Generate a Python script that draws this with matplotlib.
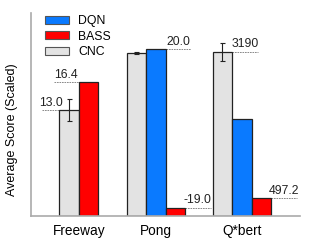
import matplotlib
matplotlib.use('Agg')
import matplotlib.pyplot as plt
from matplotlib.patches import Patch

plt.rcParams['font.family'] = ['Liberation Sans', 'DejaVu Sans']

games = ['Freeway', 'Pong', 'Q*bert']
# scaled bar heights (None = no bar)
cnc_scaled = [0.636, 0.976, 0.986]
dqn_scaled = [None, 1.0, 0.584]
bass_scaled = [0.804, 0.050, 0.108]
cnc_err = [0.066, 0.006, 0.053]
# raw score annotations
cnc_labels = ['13.0', None, '3190']
dqn_labels = [None, '20.0', None]
bass_labels = ['16.4', '-19.0', '497.2']

colors = {'CNC': '#e3e3e3', 'DQN': '#0a7aff', 'BASS': '#ff0000'}
centers = [2.46, 6.41, 10.82]
width = 1.0

fig = plt.figure(figsize=(3.19, 2.45), dpi=100)
ax = fig.add_axes([0.097, 0.118, 0.843, 0.829])

for g in range(len(games)):
    series = [('CNC', cnc_scaled[g], cnc_err[g], cnc_labels[g]),
              ('DQN', dqn_scaled[g], None, dqn_labels[g]),
              ('BASS', bass_scaled[g], None, bass_labels[g])]
    series = [s for s in series if s[1] is not None]
    n = len(series)
    for i, (name, h, err, lab) in enumerate(series):
        x = centers[g] + (i - (n - 1) / 2) * width
        ax.bar(x, h, width, color=colors[name], edgecolor='#222222', linewidth=0.9, zorder=2)
        if err is not None:
            ax.errorbar(x, h, yerr=err, fmt='none', ecolor='#222222', elinewidth=0.8,
                        capsize=1.8, capthick=0.8, zorder=3)
        if lab is None:
            continue
        # Freeway labels sit to the left of the bar, the rest to the right
        if g == 0:
            length = 0.9 if name == 'CNC' else 1.3
            x1 = x - width / 2
            x0 = x1 - length
        else:
            x0 = x + width / 2
            x1 = x0 + 1.3
        ax.plot([x0, x1], [h, h], ls=(0, (2, 1)), color='#777777', lw=0.6, zorder=1)
        ax.text((x0 + x1) / 2, h + 0.008, lab, ha='center', va='bottom', fontsize=8.8, color='#222222')

ax.set_xlim(0, 13.79)
ax.set_ylim(0, 1.218)
ax.set_xticks(centers)
ax.set_xticklabels(games, fontsize=9.8)
ax.tick_params(axis='x', length=0, pad=6)
ax.set_yticks([])
ax.set_ylabel('Average Score (Scaled)', fontsize=9, labelpad=4)
ax.yaxis.set_label_coords(-0.048, 0.425)
for s in ['top', 'right']:
    ax.spines[s].set_visible(False)
for s in ['left', 'bottom']:
    ax.spines[s].set_color('#aaaaaa')
    ax.spines[s].set_linewidth(1.2)

handles = [Patch(facecolor=colors[m], edgecolor='#555555', linewidth=0.8) for m in ['DQN', 'BASS', 'CNC']]
ax.legend(handles, ['DQN', 'BASS', 'CNC'], loc='upper left', bbox_to_anchor=(0.052, 0.99),
          frameon=False, fontsize=8.8, handlelength=2.0, handleheight=0.6, borderpad=0,
          handletextpad=0.7, labelspacing=0.3, borderaxespad=0)

fig.savefig('out.png', dpi=100)
